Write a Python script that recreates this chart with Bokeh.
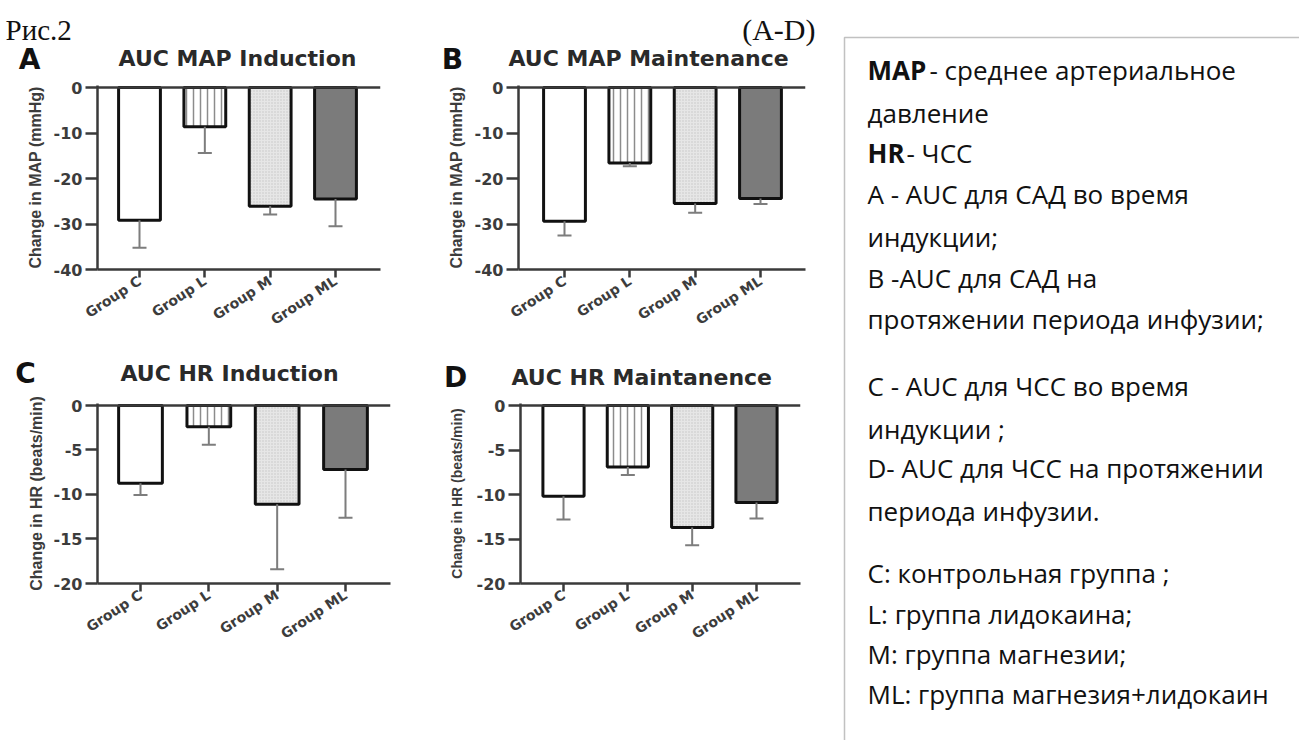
from bokeh.plotting import figure
from bokeh.models import (ColumnDataSource, Range1d, FixedTicker, Whisker, TeeHead,
                          Label, Span, BoxAnnotation)
from bokeh.layouts import row, column
from bokeh.embed import file_html
from bokeh.resources import INLINE

# ---------------- data ----------------
groups = ["Group C", "Group L", "Group M", "Group ML"]

map_induction = [-29.2, -8.6, -26.1, -24.5]
map_induction_err = [6.0, 5.8, 1.8, 6.0]

map_maintenance = [-29.4, -16.6, -25.5, -24.4]
map_maintenance_err = [3.1, 0.7, 2.0, 1.2]

hr_induction = [-8.75, -2.4, -11.1, -7.2]
hr_induction_err = [1.3, 2.0, 7.3, 5.4]

hr_maintenance = [-10.2, -6.9, -13.7, -10.9]
hr_maintenance_err = [2.6, 0.9, 2.0, 1.8]

map_ticks = [0, -10, -20, -30, -40]
hr_ticks = [0, -5, -10, -15, -20]

panel_titles = ["AUC MAP Induction", "AUC MAP Maintenance", "AUC HR Induction", "AUC HR Maintanence"]
panel_letters = ["A", "B", "C", "D"]
map_label = "Change in MAP (mmHg)"
hr_label = "Change in HR (beats/min)"
fig_caption = "Рис.2"
fig_range = "(A-D)"

legend_lines = [
    ("MAP", "- среднее артериальное"),
    ("", "давление"),
    ("HR", "- ЧСС"),
    ("", "A - AUC  для  САД во время"),
    ("", "индукции;"),
    ("", "B  -AUC для  САД на"),
    ("", "протяжении периода инфузии;"),
    ("", "C - AUC для ЧСС во время"),
    ("", "индукции ;"),
    ("", "D-  AUC для ЧСС на протяжении"),
    ("", "периода инфузии."),
    ("", "C: контрольная группа ;"),
    ("", " L: группа лидокаина;"),
    ("", "M: группа магнезии;"),
    ("", "ML: группа магнезия+лидокаин"),
]

# ---------------- styles ----------------
bar_fill = ["#ffffff", "#ffffff", "#e6e6e6", "#7b7b7b"]
bar_hatch = [" ", "|", ".", " "]
bar_hatch_color = ["#888888", "#8c8c8c", "#c4c4c4", "#6a6a6a"]
bar_hatch_scale = [7, 7, 3, 7]
AXIS = "#3a3a3a"
TXT = "#3c3c3c"
BOLDF = "DejaVu Sans"
YLABF = "Liberation Sans"


def blank_fig(W, H, y_top, y_bottom):
    f = figure(width=W, height=H, x_range=Range1d(0, W), y_range=Range1d(y_bottom, y_top),
               output_backend="svg", toolbar_location=None,
               min_border_left=0, min_border_right=0, min_border_top=0, min_border_bottom=0)
    f.axis.visible = False
    f.grid.visible = False
    f.outline_line_color = None
    return f


def make_panel(vals, errs, ticks, ylab, g):
    ox, oy, W, H = g["box"]
    FL, FR = g["fl"], g["fr"]
    zero_px, bot_px = g["zero"], g["bot"]
    t1, t4 = g["t1"], g["t4"]
    FT = zero_px - 2
    sx = (t4 - t1) / 3.0
    xs = 1 - (t1 - FL) / sx
    xe = 4 + (FR - t4) / sx
    sy = (bot_px - zero_px) / float(0 - ticks[-1])
    yend = (zero_px - FT) / sy

    p = figure(width=W, height=H, x_range=Range1d(xs, xe), y_range=Range1d(ticks[-1], yend),
               output_backend="svg", toolbar_location=None,
               min_border_left=FL - ox, min_border_right=ox + W - FR,
               min_border_top=FT - oy, min_border_bottom=oy + H - bot_px)
    p.outline_line_color = None
    p.grid.visible = False

    xpos = list(range(1, len(groups) + 1))
    src = ColumnDataSource(dict(
        x=xpos, top=[0] * len(vals), bottom=vals,
        lower=[v - e for v, e in zip(vals, errs)],
        fill=bar_fill, hatch=bar_hatch, hcolor=bar_hatch_color, hscale=bar_hatch_scale))

    p.vbar(x="x", width=0.64, top="top", bottom="bottom", source=src,
           fill_color="fill", line_color="#111111", line_width=3,
           hatch_pattern="hatch", hatch_color="hcolor", hatch_scale="hscale", hatch_weight=1.5)

    wh = Whisker(source=src, base="x", upper="bottom", lower="lower",
                 line_color="#7d7d7d", line_width=2, upper_head=None,
                 lower_head=TeeHead(size=14, line_color="#7d7d7d", line_width=2),
                 level="overlay")
    p.add_layout(wh)
    p.add_layout(Span(location=0, dimension="width", line_color=AXIS, line_width=2.5))

    # y axis
    p.yaxis.ticker = FixedTicker(ticks=ticks, minor_ticks=[])
    p.yaxis.major_label_overrides = {t: str(t) for t in ticks}
    p.yaxis.major_tick_out = 12
    p.yaxis.major_tick_in = 0
    p.yaxis.axis_line_width = 2.5
    p.yaxis.axis_line_color = AXIS
    p.yaxis.major_tick_line_width = 2.5
    p.yaxis.major_tick_line_color = AXIS
    p.yaxis.major_label_text_font = BOLDF
    p.yaxis.major_label_text_font_style = "bold"
    p.yaxis.major_label_text_font_size = "16px"
    p.yaxis.major_label_text_color = TXT
    p.yaxis.major_label_standoff = 3
    p.yaxis.axis_label = ylab
    p.yaxis.axis_label_text_font = YLABF
    p.yaxis.axis_label_text_font_style = "bold"
    p.yaxis.axis_label_text_font_size = g["ylab_size"]
    p.yaxis.axis_label_text_color = TXT
    p.yaxis.axis_label_standoff = g["ylab_standoff"]

    # x axis
    p.xaxis.ticker = FixedTicker(ticks=xpos, minor_ticks=[])
    p.xaxis.major_label_overrides = {x: gname for x, gname in zip(xpos, groups)}
    p.xaxis.major_label_orientation = 0.58
    p.xaxis.major_tick_out = 8
    p.xaxis.major_tick_in = 0
    p.xaxis.axis_line_width = 2.5
    p.xaxis.axis_line_color = AXIS
    p.xaxis.major_tick_line_width = 2.5
    p.xaxis.major_tick_line_color = AXIS
    p.xaxis.major_label_text_font = BOLDF
    p.xaxis.major_label_text_font_style = "bold"
    p.xaxis.major_label_text_font_size = "14px"
    p.xaxis.major_label_text_color = TXT
    p.xaxis.major_label_standoff = 2
    return p


def add_letter(f, text, x, y):
    f.add_layout(Label(x=x, y=y, text=text, text_font=BOLDF, text_font_style="bold",
                       text_font_size="28px", text_color="#111111",
                       text_align="center", text_baseline="middle"))


def add_title(f, text, x, y, align):
    f.add_layout(Label(x=x, y=y, text=text, text_font=BOLDF, text_font_style="bold",
                       text_font_size="22px", text_color="#2a2a2a",
                       text_align=align, text_baseline="middle"))


# ---- headers (page pixel coordinates) ----
TOP_H = 80
ROW1_BOT = 340
hdr1 = blank_fig(840, TOP_H, 0, TOP_H)
hdr1.add_layout(Label(x=5, y=29, text=fig_caption, text_font="Liberation Serif",
                      text_font_size="29px", text_color="#111111", text_baseline="middle"))
hdr1.add_layout(Label(x=815, y=29, text=fig_range, text_font="Liberation Serif",
                      text_font_size="30px", text_color="#111111", text_align="right",
                      text_baseline="middle"))
add_letter(hdr1, panel_letters[0], 29, 59)
add_title(hdr1, panel_titles[0], 237, 58, "center")
add_letter(hdr1, panel_letters[1], 452, 59)
add_title(hdr1, panel_titles[1], 508, 58, "left")

MID_BOT = 397
hdr2 = blank_fig(840, MID_BOT - ROW1_BOT, ROW1_BOT, MID_BOT)
add_letter(hdr2, panel_letters[2], 25, 373)
add_title(hdr2, panel_titles[2], 229, 373, "center")
add_letter(hdr2, panel_letters[3], 455, 377)
add_title(hdr2, panel_titles[3], 511, 377, "left")

gA = dict(box=(0, TOP_H, 420, ROW1_BOT - TOP_H), fl=97, fr=380, zero=87, bot=269, t1=139, t4=335,
          ylab_size="16px", ylab_standoff=7)
gB = dict(box=(420, TOP_H, 420, ROW1_BOT - TOP_H), fl=518, fr=805, zero=87, bot=269, t1=564, t4=760,
          ylab_size="16px", ylab_standoff=7)
gC = dict(box=(0, MID_BOT, 420, 740 - MID_BOT), fl=97, fr=390, zero=405, bot=584, t1=140, t4=345,
          ylab_size="16px", ylab_standoff=6)
gD = dict(box=(420, MID_BOT, 420, 740 - MID_BOT), fl=520, fr=800, zero=405, bot=583, t1=563, t4=756,
          ylab_size="14px", ylab_standoff=9)

pA = make_panel(map_induction, map_induction_err, map_ticks, map_label, gA)
pB = make_panel(map_maintenance, map_maintenance_err, map_ticks, map_label, gB)
pC = make_panel(hr_induction, hr_induction_err, hr_ticks, hr_label, gC)
pD = make_panel(hr_maintenance, hr_maintenance_err, hr_ticks, hr_label, gD)

# ---------------- legend box ----------------
LW, LH = 459, 740
pL = blank_fig(LW, LH, 0, LH)
pL.add_layout(BoxAnnotation(left=4, right=LW + 20, top=37, bottom=LH + 20,
                            fill_alpha=0, line_color="#333333", line_width=1.5))

line_y = [69, 112, 152, 193, 236, 277, 318, 385, 428, 467, 510, 572, 613, 653, 693]
bold_w = {"MAP": 62, "HR": 39}
LFONT = "Open Sans"
LSIZE = "26px"
for (bold, rest), yy in zip(legend_lines, line_y):
    x0 = 27
    if bold:
        pL.add_layout(Label(x=x0, y=yy, text=bold, text_font=LFONT, text_font_style="bold",
                            text_font_size=LSIZE, text_color="#111111", text_baseline="middle"))
        x0 += bold_w[bold]
    pL.add_layout(Label(x=x0, y=yy, text=rest, text_font=LFONT,
                        text_font_size=LSIZE, text_color="#111111", text_baseline="middle"))

layout = row(column(hdr1, row(pA, pB), hdr2, row(pC, pD)), pL)

open("out.html", "w").write(file_html(layout, INLINE))
